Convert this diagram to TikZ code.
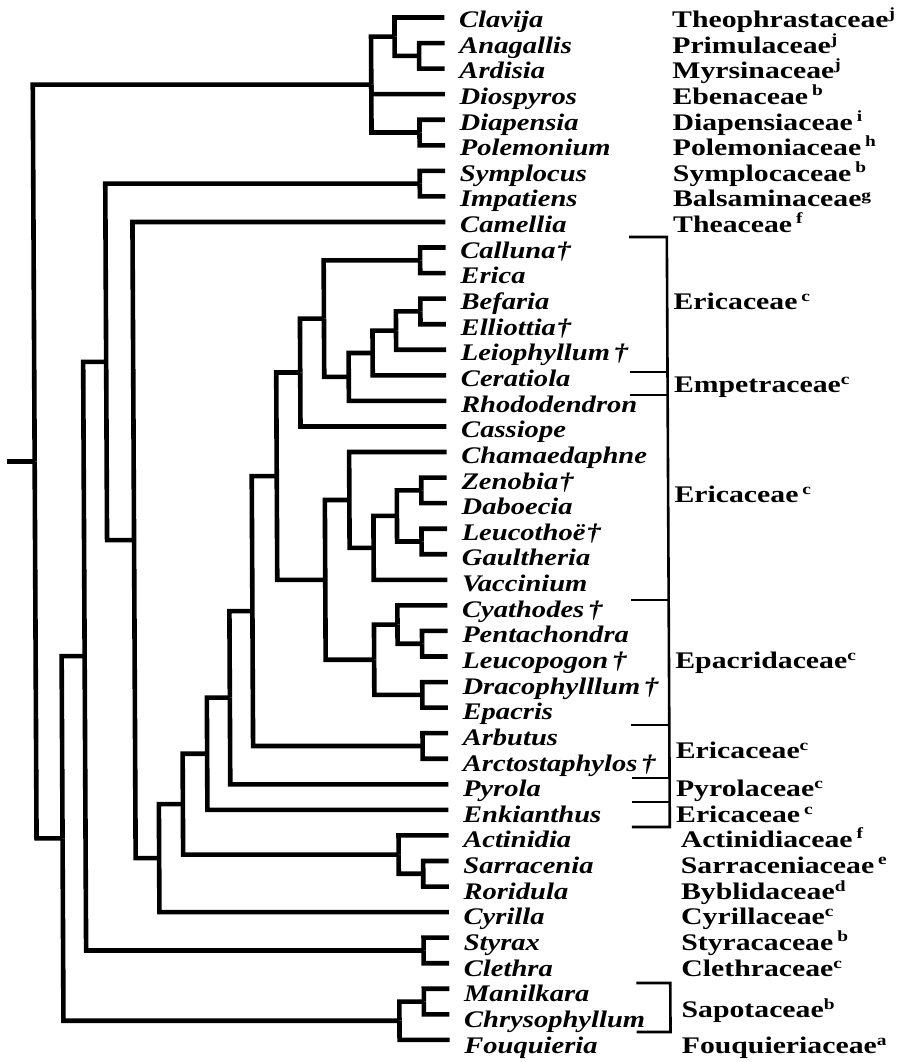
\documentclass[tikz,border=0pt]{standalone}
\usepackage{fontspec}
\newfontfamily\taxfont[FakeStretch=1.2]{Liberation Serif}
\newfontfamily\famfont[FakeStretch=1.25]{Liberation Serif}
\newcommand\fsup[2][7]{\raisebox{#1pt}{\fontsize{15.5}{15.5}\selectfont #2}}
\newcommand\Yr[1]{17.5+25.56*(#1-1)}
\newcommand\Yb[1]{27.5+25.64*(#1-1)}
\newcommand\cl[4]{\coordinate (#1) at (#2,{\Yr{#3}});
  \foreach \ch in {#4} {\draw[br] (#1) |- (\ch);}}
\tikzset{
  br/.style={line width=4.6pt, line join=miter, line cap=butt},
  bk/.style={line width=2.6pt, line join=miter, line cap=butt},
  tax/.style={anchor=base west, inner sep=0pt, font=\taxfont\bfseries\itshape\fontsize{23.8}{23.8}\selectfont},
  fam/.style={anchor=base west, inner sep=0pt, font=\famfont\bfseries\fontsize{23.8}{23.8}\selectfont},
}
\begin{document}
\begin{tikzpicture}[x=1pt,y=-1pt]
\useasboundingbox (0,0) rectangle (899,1062);
\begin{scope}[xshift=-2.65pt, xslant=-0.005]
% leaves and taxon labels
\foreach \i/\nm in {1/Clavija,2/Anagallis,3/Ardisia,4/Diospyros,5/Diapensia,6/Polemonium,
  7/Symplocus,8/Impatiens,9/Camellia,10/Calluna\kern1pt†,11/Erica,12/Befaria,13/Elliottia\kern1pt†,
  14/Leiophyllum\,†,15/Ceratiola,16/Rhododendron,17/Cassiope,18/Chamaedaphne,19/Zenobia\kern1pt†,
  20/Daboecia,21/Leucothoë\kern1pt†,22/Gaultheria,23/Vaccinium,24/Cyathodes\,†,25/Pentachondra,
  26/Leucopogon\,†,27/Dracophylllum\,†,28/Epacris,29/Arbutus,30/Arctostaphylos\,†,31/Pyrola,
  32/Enkianthus,33/Actinidia,34/Sarracenia,35/Roridula,36/Cyrilla,37/Styrax,38/Clethra,
  39/Manilkara,40/Chrysophyllum,41/Fouquieria}
{
  \coordinate (t\i) at (447,{\Yr{\i}});
  \node[tax] (l\i) at (461.5,{\Yb{\i}}) {\nm};
}
% clades
\cl{A11}{421.5}{2.5}{t2,t3}
\cl{A1}{397}{1.75}{t1,A11}
\cl{A2}{421.5}{5.5}{t5,t6}
\cl{A}{373.5}{3.625}{A1,t4,A2}
\cl{S1}{421.5}{7.5}{t7,t8}
\cl{E1}{421.5}{10.5}{t10,t11}
\cl{E2}{421.5}{12.5}{t12,t13}
\cl{E3}{397}{13.25}{E2,t14}
\cl{E4}{373.5}{14.125}{E3,t15}
\cl{E5}{349.5}{15.0625}{E4,t16}
\cl{E6}{325}{12.78125}{E1,E5}
\cl{E7}{301}{14.890625}{E6,t17}
\cl{F1}{421.5}{19.5}{t19,t20}
\cl{F2}{421.5}{21.5}{t21,t22}
\cl{F3}{397}{20.5}{F1,F2}
\cl{F4}{373.5}{21.75}{F3,t23}
\cl{F5}{349.5}{19.875}{t18,F4}
\cl{G1}{421.5}{25.5}{t25,t26}
\cl{G2}{397}{24.75}{t24,G1}
\cl{G3}{421.5}{27.5}{t27,t28}
\cl{G4}{373.5}{26.125}{G2,G3}
\cl{F6}{325}{23}{F5,G4}
\cl{E8}{277}{18.9453}{E7,F6}
\cl{H1}{421.5}{29.5}{t29,t30}
\cl{E9}{252}{24.2227}{E8,H1}
\cl{E10}{229}{27.6113}{E9,t31}
\cl{E11}{206}{29.8057}{E10,t32}
\cl{K1}{421.5}{34.5}{t34,t35}
\cl{K2}{397}{33.75}{t33,K1}
\cl{E12}{181.5}{31.7778}{E11,K2}
\cl{E13}{157.5}{33.8889}{E12,t36}
\cl{E14}{134}{21.4445}{t9,E13}
\cl{E15}{107}{14.4722}{S1,E14}
\cl{M1}{421.5}{37.5}{t37,t38}
\cl{E16}{84}{25.9861}{E15,M1}
\cl{P1}{421.5}{39.5}{t39,t40}
\cl{P2}{397}{40.25}{P1,t41}
\cl{E17}{61}{33.1181}{E16,P2}
\cl{R}{35}{18.3715}{A,E17}
\coordinate (Rs) at (7,{\Yr{18.3715}});
\draw[br] (Rs) -- (R);
% family labels
\node[fam] (f1) at (674.5,{\Yb{1}}) {Theophrastaceae\fsup[9]{j}};
\node[fam] (f2) at (674.5,{\Yb{2}}) {Primulaceae\fsup[9]{j}};
\node[fam] (f3) at (674.5,{\Yb{3}}) {Myrsinaceae\fsup[9]{j}};
\node[fam] (f4) at (674.5,{\Yb{4}}) {Ebenaceae\,\fsup[9]{b}};
\node[fam] (f5) at (674.5,{\Yb{5}}) {Diapensiaceae\,\fsup[9]{i}};
\node[fam] (f6) at (674.5,{\Yb{6}}) {Polemoniaceae\,\fsup[9]{h}};
\node[fam] (f7) at (674.5,{\Yb{7}}) {Symplocaceae\,\fsup[9]{b}};
\node[fam] (f8) at (674.5,{\Yb{8}}) {Balsaminaceae\fsup[6]{g}};
\node[fam] (f9) at (674.5,{\Yb{9}}) {Theaceae\,\fsup[9]{f}};
\node[fam] (f10) at (674.5,{\Yb{12}}) {Ericaceae\,\fsup[8]{c}};
\node[fam] (f11) at (674.5,392) {Empetraceae\fsup[8]{c}};
\node[fam] (f12) at (674.5,502) {Ericaceae\,\fsup[8]{c}};
\node[fam] (f13) at (674.5,{\Yb{26}}) {Epacridaceae\fsup[8]{c}};
\node[fam] (f14) at (674.5,758) {Ericaceae\fsup[8]{c}};
\node[fam] (f15) at (674.5,{\Yb{31}}) {Pyrolaceae\fsup[8]{c}};
\node[fam] (f16) at (674.5,{\Yb{32}}) {Ericaceae\,\fsup[8]{c}};
\node[fam] (f17) at (679,{\Yb{33}}) {Actinidiaceae\,\fsup[9]{f}};
\node[fam] (f18) at (679,{\Yb{34}}) {Sarraceniaceae\,\fsup[9]{e}};
\node[fam] (f19) at (679,{\Yb{35}}) {Byblidaceae\fsup[8]{d}};
\node[fam] (f20) at (679,{\Yb{36}}) {Cyrillaceae\fsup[8]{c}};
\node[fam] (f21) at (679,{\Yb{37}}) {Styracaceae\,\fsup[9]{b}};
\node[fam] (f22) at (679,{\Yb{38}}) {Clethraceae\fsup[8]{c}};
\node[fam] (f23) at (679,1017) {Sapotaceae\fsup[8]{b}};
\node[fam] (f24) at (679,{\Yb{41}}) {Fouquieriaceae\fsup[8]{a}};
% family brackets
\foreach \k/\yy in {0/237,1/372,2/395,3/600,4/725,5/778,6/802,7/827}{
  \coordinate (b\k) at (668.3,\yy);
  \coordinate (b\k l) at (630.5,\yy);
}
\draw[bk] (b0l) -- (b0) -- (b7) -- (b7l);
\foreach \k in {1,...,6}{\draw[bk] (b\k l) -- (b\k);}
\coordinate (s0l) at (634,983);
\coordinate (s0) at (668,983);
\coordinate (s1) at (668,1032);
\coordinate (s1l) at (634,1032);
\draw[bk] (s0l) -- (s0) -- (s1) -- (s1l);
\end{scope}
\end{tikzpicture}
\end{document}
